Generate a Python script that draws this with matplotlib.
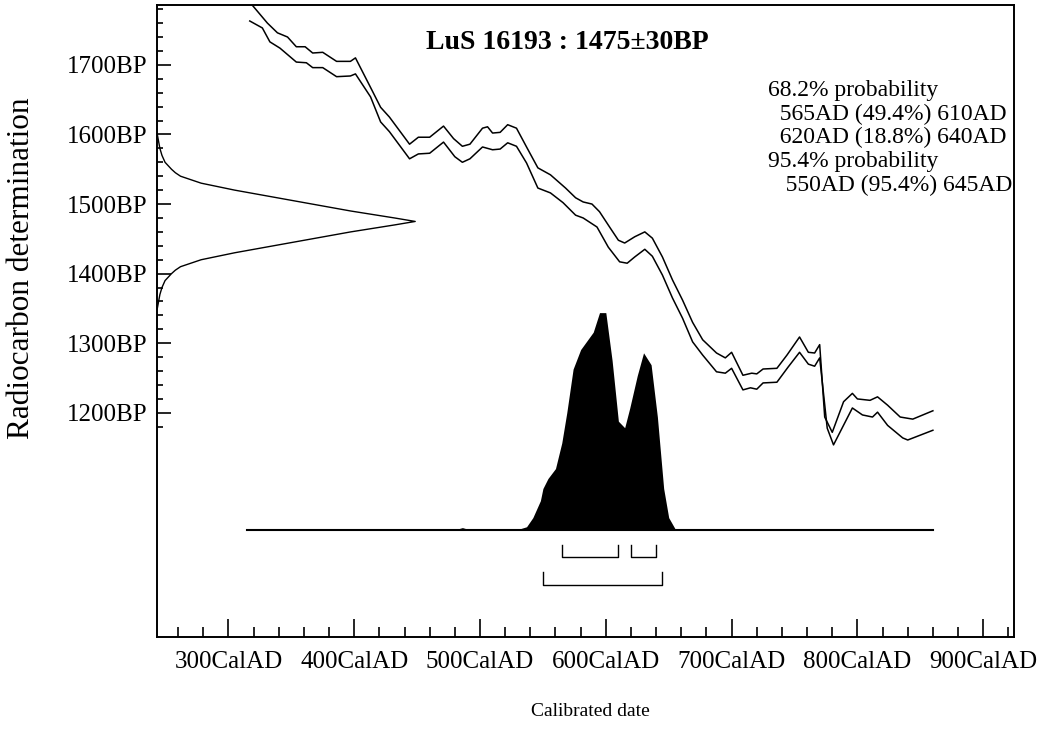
import matplotlib
matplotlib.use('Agg')
import matplotlib.pyplot as plt
import numpy as np

plt.rcParams['font.family'] = ['Liberation Serif', 'DejaVu Serif']

sample_title = 'LuS 16193 : 1475±30BP'
prob_lines = ['68.2% probability',
              '  565AD (49.4%) 610AD',
              '  620AD (18.8%) 640AD',
              '95.4% probability',
              '   550AD (95.4%) 645AD']

# calibration curve envelope (cal AD, BP)
upper_ad = [317, 331, 339, 347, 354, 361, 367, 375, 386, 397, 401, 414, 421, 428,
            444, 451, 460, 471, 479, 486, 492, 502, 506, 510, 516, 522, 529, 537,
            546, 556, 568, 576, 582, 589, 595, 603, 610, 615, 623, 631, 637, 645,
            653, 661, 669, 677, 688, 695, 700, 709, 716, 720, 725, 736, 744, 754,
            761, 766, 770, 774, 780, 789, 796, 800, 810, 816, 824, 834, 844, 860]
upper_bp = [1790, 1760, 1746, 1740, 1726, 1726, 1717, 1718, 1705, 1705, 1710, 1664,
            1639, 1625, 1586, 1596, 1596, 1612, 1594, 1583, 1586, 1609, 1611, 1602,
            1603, 1614, 1609, 1582, 1552, 1542, 1523, 1509, 1503, 1500, 1489, 1467,
            1448, 1444, 1453, 1460, 1451, 1424, 1391, 1362, 1330, 1305, 1286, 1279,
            1287, 1254, 1257, 1256, 1263, 1264, 1283, 1309, 1287, 1286, 1298, 1194,
            1172, 1216, 1228, 1220, 1218, 1223, 1211, 1194, 1191, 1203]
lower_ad = [317, 327, 333, 341, 354, 362, 367, 375, 386, 397, 401, 413, 421, 428,
            444, 451, 460, 471, 480, 486, 492, 502, 510, 516, 522, 529, 537, 546,
            556, 566, 576, 582, 593, 602, 611, 617, 623, 631, 637, 645, 653, 661,
            669, 677, 688, 695, 700, 709, 715, 720, 725, 736, 745, 754, 761, 766,
            770, 776, 781, 796, 804, 812, 816, 824, 836, 840, 850, 860]
lower_bp = [1763, 1753, 1733, 1724, 1704, 1703, 1696, 1696, 1683, 1684, 1687, 1654,
            1618, 1604, 1565, 1572, 1573, 1589, 1568, 1560, 1565, 1582, 1578, 1579,
            1588, 1583, 1559, 1523, 1516, 1502, 1484, 1480, 1467, 1438, 1417, 1415,
            1424, 1435, 1425, 1398, 1365, 1336, 1302, 1283, 1259, 1257, 1264, 1233,
            1236, 1234, 1243, 1244, 1266, 1287, 1270, 1267, 1279, 1178, 1154, 1207,
            1197, 1194, 1201, 1182, 1164, 1161, 1168, 1175]

# radiocarbon determination (BP, relative probability)
date_bp = [1600, 1580, 1570, 1560, 1550, 1545, 1540, 1530, 1520, 1510, 1500, 1490,
           1480, 1475, 1470, 1460, 1450, 1440, 1430, 1420, 1410, 1405, 1400, 1390,
           1380, 1370, 1350]
date_prob = [0.0, 0.01, 0.018, 0.03, 0.055, 0.07, 0.09, 0.17, 0.30, 0.45, 0.60,
             0.75, 0.92, 1.0, 0.92, 0.75, 0.60, 0.45, 0.30, 0.17, 0.09, 0.07, 0.055,
             0.03, 0.018, 0.01, 0.0]

# calibrated distribution (cal AD, relative probability)
cal_ad = [315, 440, 444, 448, 480, 486, 492, 525, 532, 537, 542, 548, 550, 554, 560,
          565, 569, 574, 580, 585, 590, 595, 600, 605, 610, 615, 619, 625, 630, 636,
          641, 646, 650, 655, 660, 860]
cal_prob = [0.0, 0.0, 0.005, 0.0, 0.0, 0.01, 0.0, 0.0, 0.005, 0.014, 0.056, 0.134,
            0.19, 0.236, 0.282, 0.40, 0.54, 0.74, 0.83, 0.87, 0.91, 1.0, 1.0, 0.78,
            0.50, 0.47, 0.56, 0.71, 0.815, 0.76, 0.52, 0.19, 0.056, 0.005, 0.0, 0.0]

range_68 = [(565, 610), (620, 640)]
range_95 = [(550, 645)]

x_major = [300, 400, 500, 600, 700, 800, 900]
y_major = [1200, 1300, 1400, 1500, 1600, 1700]


def main():
    fig = plt.figure(figsize=(10.48, 7.33), dpi=100)
    ax = fig.add_axes([0.1501, 0.131, 0.8175, 0.8622])
    ax.set_xlim(243.5, 924.5)
    ax.set_ylim(878, 1786)

    ax.plot(upper_ad, upper_bp, color='black', lw=1.1)
    ax.plot(lower_ad, lower_bp, color='black', lw=1.1)

    # date distribution on the y axis
    x0 = ax.get_xlim()[0]
    ax.plot(x0 + np.array(date_prob) * 205, date_bp, color='black', lw=1.0)

    # calibrated distribution
    base, height = 1032, 312
    ax.fill_between(cal_ad, base, base + np.array(cal_prob) * height,
                    color='black', lw=0)
    ax.plot([cal_ad[0], cal_ad[-1]], [base, base], color='black', lw=1.5)

    for a, b in range_68:
        ax.plot([a, a, b, b], [1010, 993, 993, 1010], color='black', lw=1.0)
    for a, b in range_95:
        ax.plot([a, a, b, b], [971, 953, 953, 971], color='black', lw=1.0)

    ax.set_xticks(x_major)
    ax.set_xticklabels([f'{v}CalAD' for v in x_major])
    ax.set_xticks(np.arange(260, 921, 20), minor=True)
    ax.set_yticks(y_major)
    ax.set_yticklabels([f'{v}BP' for v in y_major])
    ax.set_yticks(np.arange(1180, 1781, 20), minor=True)
    ax.tick_params(which='both', direction='in', top=False, right=False,
                   width=1.2, labelsize=18)
    ax.tick_params(axis='x', which='major', length=13, pad=10)
    ax.tick_params(axis='x', which='minor', length=7)
    ax.tick_params(axis='y', which='major', length=10, pad=7)
    ax.tick_params(axis='y', which='minor', length=4.5)
    for s in ax.spines.values():
        s.set_linewidth(1.4)

    ax.text(0.478, 0.94, sample_title, transform=ax.transAxes, ha='center',
            va='center', fontsize=20, fontweight='bold')
    ys = [0.865, 0.827, 0.790, 0.752, 0.714]
    for line, y in zip(prob_lines, ys):
        ax.text(0.713, y, line, transform=ax.transAxes, ha='left', va='center',
                fontsize=17)

    fig.text(590 / 1048, 1 - 712 / 733, 'Calibrated date', ha='center',
             va='center', fontsize=14)
    fig.text(22 / 1048, 1 - 268 / 733, 'Radiocarbon determination', ha='center',
             va='center', rotation=90, fontsize=22.5)

    fig.savefig('out.png', dpi=100)


if __name__ == '__main__':
    main()
